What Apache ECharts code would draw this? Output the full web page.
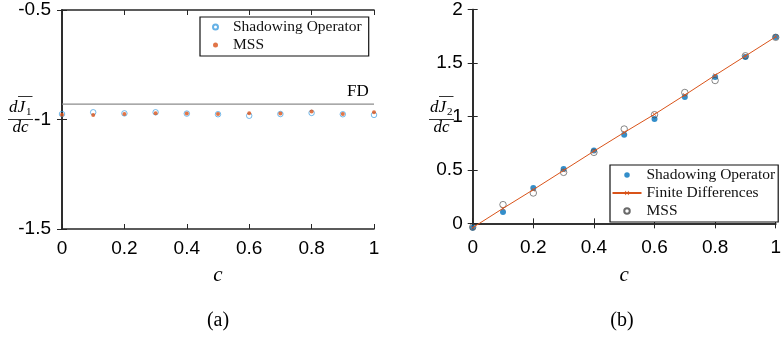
<!DOCTYPE html>
<html>
<head>
<meta charset="utf-8">
<script src="https://cdn.jsdelivr.net/npm/echarts@6/dist/echarts.min.js"></script>
<style>
  html, body { margin: 0; padding: 0; background: #fff; }
  #chart { width: 784px; height: 338px; }
</style>
</head>
<body>
<div id="chart"></div>
<script>
// Parameter values c along the horizontal axis
const cValues = [0, 0.1, 0.2, 0.3, 0.4, 0.5, 0.6, 0.7, 0.8, 0.9, 1];

// Panel (a): sensitivity dJ1/dc
const shadowA = [-0.975, -0.967, -0.972, -0.967, -0.973, -0.976, -0.983, -0.975, -0.970, -0.976, -0.979];
const mssA    = [-0.978, -0.979, -0.975, -0.972, -0.973, -0.975, -0.972, -0.973, -0.964, -0.975, -0.967];
const fdA     = -0.93;
const yTicksA = [-1.5, -1, -0.5];

// Panel (b): sensitivity dJ2/dc
const shadowB = [-0.04, 0.107, 0.331, 0.508, 0.682, 0.829, 0.976, 1.181, 1.368, 1.555, 1.742];
const fdB     = [-0.04, 0.14, 0.315, 0.495, 0.675, 0.85, 1.02, 1.2, 1.385, 1.565, 1.745];
const mssB    = [-0.035, 0.175, 0.284, 0.477, 0.664, 0.882, 1.016, 1.224, 1.336, 1.567, 1.74];
const yTicksB = [0, 0.5, 1, 1.5, 2];

const BLUE = '#0072BD';
const LIGHT_BLUE = '#3f9ee0';
const ORANGE = '#D95319';
const AXIS = '#262626';
const SANS = '"Liberation Sans", Arial, sans-serif';
const SERIF = '"Liberation Serif", "Times New Roman", serif';
const CLEAR = 'rgba(0,0,0,0)';

const pairs = (xs, ys) => xs.map((x, i) => [x, ys[i]]);
const crossPath = 'path://M0,1L1,0L5,4L9,0L10,1L6,5L10,9L9,10L5,6L1,10L0,9L4,5Z';

function xAxisPair(gridIndex) {
  const base = {
    gridIndex, type: 'value', min: 0, max: 1, interval: 0.2,
    axisLine: { show: true, lineStyle: { color: AXIS, width: 1.6 } },
    axisTick: { show: true, inside: true, length: 5, lineStyle: { color: AXIS, width: 1 } },
    splitLine: { show: false }
  };
  return [
    Object.assign({}, base, {
      position: 'bottom',
      axisLabel: { show: true, margin: 10, fontFamily: SANS, fontSize: 19, color: '#000' },
      name: 'c', nameLocation: 'middle', nameGap: 36,
      nameTextStyle: { fontFamily: SERIF, fontStyle: 'italic', fontSize: 21, color: '#000' }
    }),
    Object.assign({}, base, { position: 'top', axisLabel: { show: false } })
  ];
}

function yAxisPair(gridIndex, min, max, ticks, margin) {
  const base = {
    gridIndex, type: 'value', min, max,
    axisLine: { show: true, lineStyle: { color: AXIS, width: 1.6 } },
    axisTick: { show: true, inside: true, length: 5, customValues: ticks, lineStyle: { color: AXIS, width: 1 } },
    splitLine: { show: false }
  };
  return [
    Object.assign({}, base, {
      position: 'left',
      axisLabel: { show: true, margin, customValues: ticks, fontFamily: SANS, fontSize: 19, color: '#000' }
    }),
    Object.assign({}, base, { position: 'right', axisLabel: { show: false } })
  ];
}

// Stacked fraction d(overline J_k)/dc used as a y-axis title
function fractionLabel(x0, k) {
  const style = { fontFamily: SERIF, fontStyle: 'italic', fontSize: 17, fill: '#000' };
  return {
    type: 'group', x: x0, y: 0, silent: true,
    children: [
      { type: 'text', x: 0, y: 107.5, style: Object.assign({ text: 'dJ', textVerticalAlign: 'middle' }, style) },
      { type: 'text', x: 17, y: 112, style: { text: String(k), fontFamily: SERIF, fontSize: 11, fill: '#000', textVerticalAlign: 'middle' } },
      { type: 'line', shape: { x1: 9, y1: 96.5, x2: 23.5, y2: 96.5 }, style: { stroke: '#000', lineWidth: 0.8 } },
      { type: 'line', shape: { x1: -1, y1: 119.5, x2: 24, y2: 119.5 }, style: { stroke: '#000', lineWidth: 0.8 } },
      { type: 'text', x: 11.5, y: 127.5, style: Object.assign({ text: 'dc', textAlign: 'center', textVerticalAlign: 'middle' }, style) }
    ]
  };
}

const legendText = { fontFamily: SERIF, fontSize: 15.5, color: '#111' };

const chart = echarts.init(document.getElementById('chart'), null, { renderer: 'canvas' });

chart.setOption({
  animation: false,
  backgroundColor: '#fff',
  grid: [
    { left: 62, right: 410, top: 10, bottom: 109 },
    { left: 472.7, right: 0.7, top: 9.5, bottom: 109.3 }
  ],
  xAxis: [...xAxisPair(0), ...xAxisPair(1)],
  yAxis: [...yAxisPair(0, -1.5, -0.5, yTicksA, 11), ...yAxisPair(1, -0.05, 2, yTicksB, 10)],
  legend: [
    {
      left: 200, top: 17, orient: 'vertical',
      data: ['Shadowing Operator@a', 'MSS@a'],
      formatter: n => n.split('@')[0],
      backgroundColor: '#fff', borderColor: '#111', borderWidth: 1.2,
      padding: [2, 7, 3, 12], itemGap: 2, itemWidth: 25, itemHeight: 5,
      textStyle: legendText,
      selectedMode: false
    },
    {
      left: 610, top: 165, orient: 'vertical',
      data: ['Shadowing Operator@b', 'Finite Differences@b', 'MSS@b'],
      formatter: n => n.split('@')[0],
      backgroundColor: '#fff', borderColor: '#111', borderWidth: 1.2,
      padding: [2, 3, 3, 1.5], itemGap: 2, itemWidth: 29, itemHeight: 5.5,
      textStyle: legendText,
      selectedMode: false
    }
  ],
  graphic: [
    fractionLabel(9, 1),
    fractionLabel(430, 2),
    { type: 'text', x: 218, y: 321, style: { text: '(a)', fontFamily: SERIF, fontSize: 20, fill: '#000', textAlign: 'center', textVerticalAlign: 'middle' } },
    { type: 'text', x: 622, y: 321, style: { text: '(b)', fontFamily: SERIF, fontSize: 20, fill: '#000', textAlign: 'center', textVerticalAlign: 'middle' } }
  ],
  series: [
    {
      name: 'FD@a', type: 'line', xAxisIndex: 0, yAxisIndex: 0,
      data: [[0, fdA], [1, fdA]], showSymbol: false, symbol: 'none',
      lineStyle: { color: '#8c8c8c', width: 1.3 },
      endLabel: { show: true, formatter: 'FD', offset: [-35, -13], fontFamily: SERIF, fontSize: 17, color: '#000' },
      silent: true
    },
    {
      name: 'Shadowing Operator@a', type: 'scatter', xAxisIndex: 0, yAxisIndex: 0,
      data: pairs(cValues, shadowA), symbol: 'circle', symbolSize: 5.5,
      itemStyle: { color: CLEAR, borderColor: LIGHT_BLUE, borderWidth: 0.9 }
    },
    {
      name: 'MSS@a', type: 'scatter', xAxisIndex: 0, yAxisIndex: 0,
      data: pairs(cValues, mssA), symbol: 'circle', symbolSize: 4,
      itemStyle: { color: ORANGE }
    },
    {
      name: 'Shadowing Operator@b', type: 'scatter', xAxisIndex: 2, yAxisIndex: 2,
      data: pairs(cValues, shadowB), symbol: 'circle', symbolSize: 6,
      itemStyle: { color: BLUE }
    },
    {
      name: 'Finite Differences@b', type: 'line', xAxisIndex: 2, yAxisIndex: 2,
      data: pairs(cValues, fdB), symbol: crossPath, symbolSize: 4, showSymbol: true,
      lineStyle: { color: ORANGE, width: 1 },
      itemStyle: { color: ORANGE }
    },
    {
      name: 'MSS@b', type: 'scatter', xAxisIndex: 2, yAxisIndex: 2,
      data: pairs(cValues, mssB), symbol: 'circle', symbolSize: 6.5,
      itemStyle: { color: CLEAR, borderColor: '#444', borderWidth: 0.8 }
    }
  ]
});
</script>
</body>
</html>
